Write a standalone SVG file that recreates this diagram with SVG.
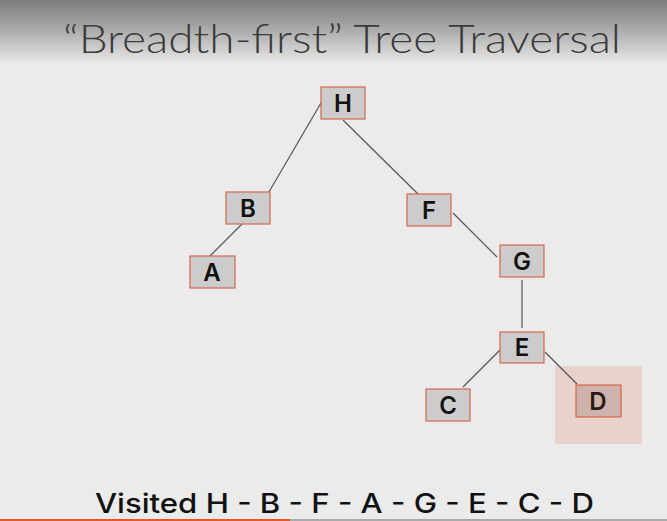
<svg xmlns="http://www.w3.org/2000/svg" width="667" height="521" viewBox="0 0 667 521">
<defs>
<linearGradient id="hdr" x1="0" y1="0" x2="0" y2="1">
<stop offset="0" stop-color="#7c7c7c"/>
<stop offset="0.5" stop-color="#adadad"/>
<stop offset="1" stop-color="#e6e6e6"/>
</linearGradient>
<style>
.node rect{fill:#cccccc;stroke:#d4674a;stroke-width:1.2}
.node text{font-family:Inter,"Open Sans","Liberation Sans",sans-serif;font-weight:600;font-size:24px;fill:#111;text-anchor:middle}
.edges line{stroke:#555;stroke-width:1.2}
</style>
</defs>
<rect width="667" height="521" fill="#ebebeb"/>
<rect width="667" height="62" fill="url(#hdr)"/>
<text x="63" y="53" textLength="558" lengthAdjust="spacingAndGlyphs" font-family="Lato,'Open Sans',sans-serif" font-weight="300" font-size="40" fill="#3a3a3a">“Breadth-first” Tree Traversal</text>
<rect x="555" y="366" width="87" height="78" fill="#e8d3cc"/>
<g class="edges">
<line x1="321" y1="103" x2="266" y2="197"/>
<line x1="343" y1="120" x2="421" y2="197"/>
<line x1="242" y1="224" x2="209" y2="257"/>
<line x1="453" y1="213" x2="497" y2="257"/>
<line x1="522" y1="280" x2="522" y2="328"/>
<line x1="502" y1="348" x2="463" y2="387"/>
<line x1="545" y1="352" x2="577" y2="384"/>
</g>
<g id="H" class="node"><rect x="321" y="87" width="44" height="32"/><text x="343" y="112">H</text></g>
<g id="B" class="node"><rect x="226" y="192" width="44" height="32"/><text x="248" y="217">B</text></g>
<g id="F" class="node"><rect x="407" y="194" width="44" height="32"/><text x="429" y="219">F</text></g>
<g id="A" class="node"><rect x="190" y="256" width="45" height="32"/><text x="212" y="281">A</text></g>
<g id="G" class="node"><rect x="500" y="245" width="44" height="32"/><text x="522" y="270">G</text></g>
<g id="E" class="node"><rect x="500" y="332" width="44" height="31"/><text x="522" y="356">E</text></g>
<g id="C" class="node"><rect x="426" y="389" width="44" height="32"/><text x="448" y="414">C</text></g>
<g id="D" class="node"><rect x="576" y="385" width="45" height="32" style="fill:#cdb3ab"/><text x="598" y="410" style="fill:#2a1a14">D</text></g>
<text x="95" y="513" textLength="499" lengthAdjust="spacingAndGlyphs" font-family="Inter,'Open Sans',sans-serif" font-weight="500" font-size="27" fill="#111">Visited H - B - F - A - G - E - C - D</text>
<rect x="0" y="519" width="290" height="2" fill="#e8572a"/>
<rect x="290" y="519" width="377" height="2" fill="#aaaaaa"/>
</svg>
